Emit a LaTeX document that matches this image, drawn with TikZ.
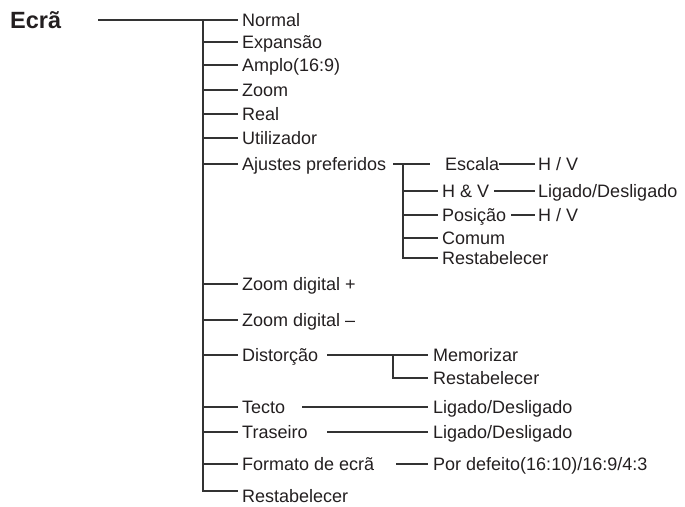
\documentclass[tikz,border=0pt]{standalone}
\usepackage{fontspec}
\setmainfont{Liberation Sans}
\definecolor{txtc}{HTML}{231F20}
\definecolor{linec}{HTML}{333333}
\begin{document}
\begin{tikzpicture}[x=1pt,y=-1pt,
  ln/.style={draw=linec, line width=1.1pt},
  lbl/.style={anchor=west, inner sep=0pt, text height=12.9pt, text depth=0pt, text=txtc, font=\fontsize{18}{20}\selectfont},
  ttl/.style={anchor=west, inner sep=0pt, text height=16.5pt, text depth=0pt, text=txtc, font=\bfseries\fontsize{23.5}{26}\selectfont}]
\useasboundingbox (0,0) rectangle (685,506);
% title
\node[ttl] (ecra) at (10,20.5) {Ecrã};
% main items
\node[lbl] (normal) at (242,20) {Normal};
\node[lbl] (expa) at (242,42) {Expansão};
\node[lbl] (amplo) at (242,65) {Amplo(16:9)};
\node[lbl] (zoom) at (242,90) {Zoom};
\node[lbl] (real) at (242,114) {Real};
\node[lbl] (util) at (242,138) {Utilizador};
\node[lbl] (ajust) at (242,164) {Ajustes preferidos};
\node[lbl] (zdp) at (242,284) {Zoom digital +};
\node[lbl] (zdm) at (242,320) {Zoom digital –};
\node[lbl] (dist) at (242,355) {Distorção};
\node[lbl] (tecto) at (242,407) {Tecto};
\node[lbl] (tras) at (242,432) {Traseiro};
\node[lbl] (form) at (242,464) {Formato de ecrã};
\node[lbl] (rest) at (242,496.5) {Restabelecer};
% ajustes sub items
\node[lbl] (escala) at (445,164) {Escala};
\node[lbl] (hv) at (442,191) {H \& V};
\node[lbl] (pos) at (442,215) {Posição};
\node[lbl] (comum) at (442,238) {Comum};
\node[lbl] (srest) at (442,258) {Restabelecer};
\node[lbl] (eschv) at (538,164) {H / V};
\node[lbl] (hvlig) at (538,191) {Ligado/Desligado};
\node[lbl] (poshv) at (538,215) {H / V};
% distorcao sub items
\node[lbl] (memo) at (433,355) {Memorizar};
\node[lbl] (drest) at (433,378) {Restabelecer};
% others
\node[lbl] (tlig) at (433,407) {Ligado/Desligado};
\node[lbl] (trlig) at (433,432) {Ligado/Desligado};
\node[lbl] (por) at (433,464) {Por defeito(16:10)/16:9/4:3};
% coordinates
\coordinate (e0) at (98,20);
\coordinate (tr) at (203,20);
\coordinate (sv) at (403,164);
\coordinate (a1) at (430,164);
\coordinate (d0) at (327,355);
\coordinate (dv) at (393,355);
\coordinate (t0) at (302,407);
\coordinate (r0) at (327,432);
\coordinate (f0) at (396,464);
% main trunk
\draw[ln] (e0) -- ([xshift=-4pt]normal.west);
\draw[ln] (tr) |- ([xshift=-4pt,yshift=5.5pt]rest.west);
\foreach \n in {expa,amplo,zoom,real,util,ajust,zdp,zdm,dist,tecto,tras,form}
  \draw[ln] (tr |- \n.west) -- ([xshift=-4pt]\n.west);
% ajustes
\draw[ln] ([xshift=7pt]ajust.east) -- (a1);
\draw[ln] (sv) |- ([xshift=-4pt]srest.west);
\foreach \n in {hv,pos,comum}
  \draw[ln] (sv |- \n.west) -- ([xshift=-4pt]\n.west);
\draw[ln] (escala.east) -- ([xshift=-3pt]eschv.west);
\draw[ln] ([xshift=5pt]hv.east) -- ([xshift=-3pt]hvlig.west);
\draw[ln] ([xshift=5pt]pos.east) -- ([xshift=-3pt]poshv.west);
% distorcao
\draw[ln] (d0) -- ([xshift=-5pt]memo.west);
\draw[ln] (dv) |- ([xshift=-5pt]drest.west);
% others
\draw[ln] (t0) -- ([xshift=-5pt]tlig.west);
\draw[ln] (r0) -- ([xshift=-5pt]trlig.west);
\draw[ln] (f0) -- ([xshift=-5pt]por.west);
\end{tikzpicture}
\end{document}
